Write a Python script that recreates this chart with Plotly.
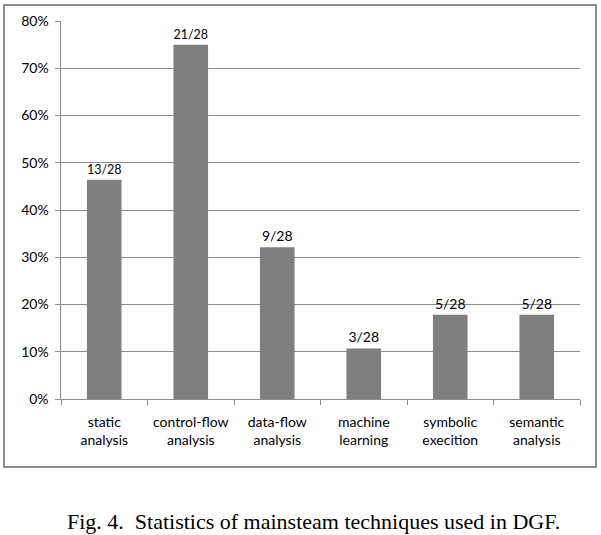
import plotly.graph_objects as go

categories = ["static<br>analysis", "control-flow<br>analysis", "data-flow<br>analysis",
              "machine<br>learning", "symbolic<br>execition", "semantic<br>analysis"]
counts = [13, 21, 9, 3, 5, 5]
total = 28
percent = [c / total * 100 for c in counts]
labels = [f"{c}/{total}" for c in counts]

W, H = 601, 535
L, R, T, B = 61, 21, 21, 136
pw, ph = W - L - R, H - T - B

def px_x(x):
    return (x - L) / pw

def px_y(y):
    return (H - B - y) / ph

fig = go.Figure(go.Bar(
    x=categories, y=percent, text=labels, texttemplate="%{text}",
    textposition="outside", cliponaxis=False,
    textfont=dict(size=14, color="#000000", family="Lato, Open Sans, sans-serif"),
    marker=dict(color="#7f7f7f", line=dict(width=0)), width=0.4,
))

fig.update_layout(
    width=W, height=H, margin=dict(l=L, r=R, t=T, b=B),
    plot_bgcolor="white", paper_bgcolor="white", showlegend=False,
    font=dict(family="Lato, Open Sans, sans-serif", size=14, color="#000000"),
    bargap=0.6,
)
fig.update_yaxes(range=[0, 80], dtick=10, ticksuffix="%\u00a0", showgrid=True,
                 gridcolor="#8c8c8c", gridwidth=1, showline=True, linecolor="#8c8c8c",
                 ticks="outside", ticklen=5, tickcolor="#8c8c8c", zeroline=False,
                 tickfont=dict(size=14))
fig.update_xaxes(showline=True, linecolor="#8c8c8c", ticks="outside", tickson="boundaries",
                 ticklen=5, tickcolor="#8c8c8c", showgrid=False, tickfont=dict(size=14),
                 ticklabelstandoff=10)

# outer chart border
fig.add_shape(type="rect", xref="paper", yref="paper",
              x0=px_x(4), x1=px_x(596), y0=px_y(467), y1=px_y(5),
              line=dict(color="#8c8c8c", width=2), layer="below")

fig.add_annotation(text="Fig. 4.  Statistics of mainsteam techniques used in DGF.",
                   xref="paper", yref="paper", x=px_x(313), y=px_y(521),
                   showarrow=False, xanchor="center", yanchor="middle",
                   font=dict(family="Liberation Serif, Times New Roman, serif", size=22, color="#000000"))

fig.write_html("out.html", config={"displayModeBar": False},
               post_script="document.body.style.margin='0';document.body.style.overflow='hidden';")
